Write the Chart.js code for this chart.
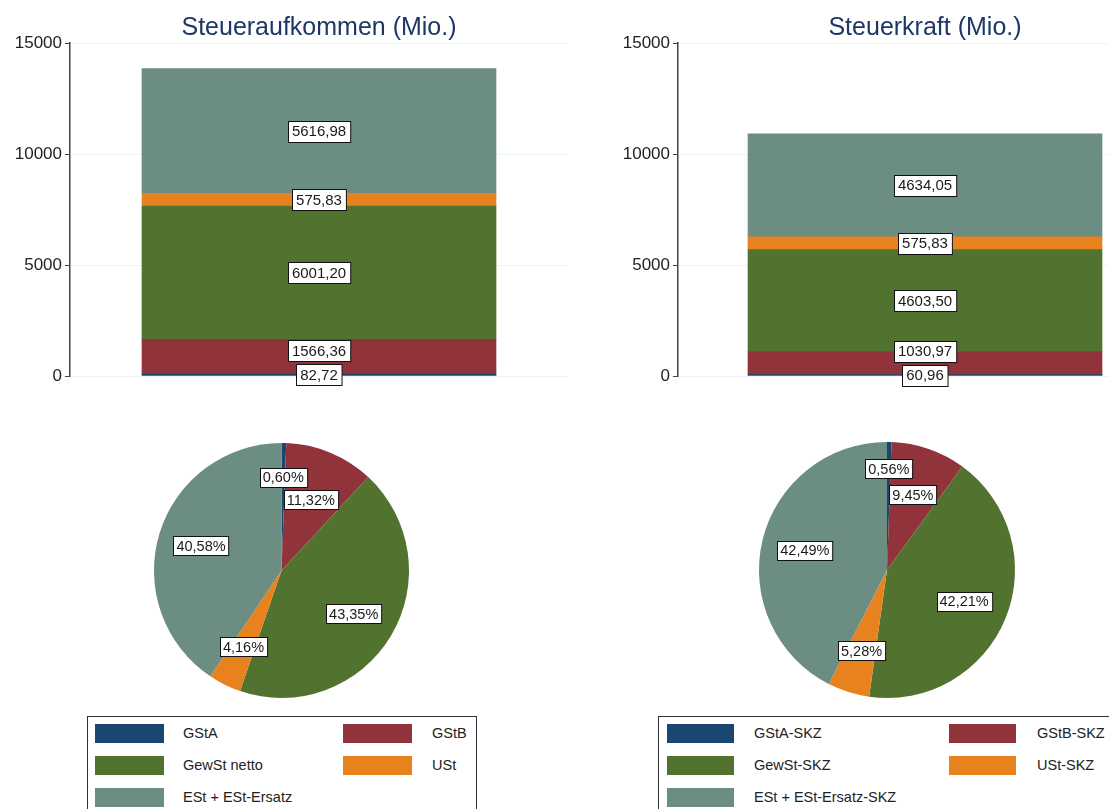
<!DOCTYPE html>
<html>
<head>
<meta charset="utf-8">
<script src="https://cdn.jsdelivr.net/npm/chart.js@4.4.1/dist/chart.umd.min.js"></script>
<style>
  html, body { margin:0; padding:0; background:#fff; }
  body { width:1109px; height:809px; overflow:hidden; position:relative; font-family:"Liberation Sans", Arial, sans-serif; }
  canvas.c { position:absolute; }
  .legend { position:absolute; border:1px solid #2c313a; background:#fff; box-sizing:border-box; }
  .sw { position:absolute; height:19px; }
  .lt { position:absolute; font-size:14.5px; color:#222; line-height:19px; white-space:nowrap; }
</style>
</head>
<body>
<canvas class="c" id="bar1" width="568" height="400" style="left:0px;top:0px;width:568px;height:400px"></canvas>
<canvas class="c" id="bar2" width="564" height="400" style="left:608px;top:0px;width:564px;height:400px"></canvas>
<canvas class="c" id="pie1" width="315" height="315" style="left:124px;top:413px;width:315px;height:315px"></canvas>
<canvas class="c" id="pie2" width="316" height="316" style="left:729px;top:412px;width:316px;height:316px"></canvas>
<div class="legend" id="leg1" style="left:87px;top:716px;width:390px;height:120px"></div>
<div class="legend" id="leg2" style="left:658px;top:716px;width:500px;height:120px"></div>
<script>
// ---- data ----
const titleLeft = 'Steueraufkommen (Mio.)';
const titleRight = 'Steuerkraft (Mio.)';
const namesLeft = ['GStA', 'GStB', 'GewSt netto', 'USt', 'ESt + ESt-Ersatz'];
const namesRight = ['GStA-SKZ', 'GStB-SKZ', 'GewSt-SKZ', 'USt-SKZ', 'ESt + ESt-Ersatz-SKZ'];
const valuesLeft = [82.72, 1566.36, 6001.20, 575.83, 5616.98];
const valuesRight = [60.96, 1030.97, 4603.50, 575.83, 4634.05];
const yTickValues = [0, 5000, 10000, 15000];
const seriesColors = ['#1a476f', '#90333b', '#52732f', '#e8821e', '#6c8e82'];

const FONT = '"Liberation Sans", Arial, sans-serif';
const fmt = v => v.toFixed(2).replace('.', ',');

function drawBox(ctx, text, x, y, fontSize, padX, h) {
  ctx.save();
  ctx.font = fontSize + 'px ' + FONT;
  const w = ctx.measureText(text).width + 2 * padX;
  const left = Math.round(x - w / 2) + 0.5, top = Math.round(y - h / 2) + 0.5;
  ctx.fillStyle = '#ffffff';
  ctx.fillRect(left, top, w, h);
  ctx.strokeStyle = '#111';
  ctx.lineWidth = 1;
  ctx.strokeRect(left, top, w, h);
  ctx.fillStyle = '#1a1a1a';
  ctx.textAlign = 'center';
  ctx.textBaseline = 'middle';
  ctx.fillText(text, x, y + 1);
  ctx.restore();
}

const barLabels = {
  id: 'barLabels',
  afterDatasetsDraw(chart) {
    const ctx = chart.ctx;
    const h = 21, gap = 3;
    let prevTop = Infinity;
    chart.data.datasets.forEach((ds, i) => {
      const el = chart.getDatasetMeta(i).data[0];
      let y = (el.y + el.base) / 2;
      if (y + h / 2 + gap > prevTop) y = prevTop - gap - h / 2;
      prevTop = y - h / 2;
      drawBox(ctx, fmt(ds.data[0]), el.x, y, 15, 4, h);
    });
  }
};

const pieLabels = {
  id: 'pieLabels',
  afterDatasetsDraw(chart, args, opts) {
    const ctx = chart.ctx;
    const ds = chart.data.datasets[0];
    const total = ds.data.reduce((a, b) => a + b, 0);
    chart.getDatasetMeta(0).data.forEach((arc, i) => {
      const mid = (arc.startAngle + arc.endAngle) / 2;
      const r = arc.outerRadius * opts.radiusFraction[i];
      const x = arc.x + Math.cos(mid) * r;
      const y = arc.y + Math.sin(mid) * r;
      drawBox(ctx, fmt(ds.data[i] / total * 100) + '%', x, y, 14.5, 3, 19);
    });
  }
};

function barChart(id, title, names, values) {
  return new Chart(document.getElementById(id), {
    type: 'bar',
    data: {
      labels: [''],
      datasets: names.map((n, i) => ({
        label: n, data: [values[i]], backgroundColor: seriesColors[i],
        borderWidth: 0, barThickness: 354
      }))
    },
    options: {
      responsive: false, animation: false, events: [],
      layout: { padding: { left: 0, right: 0, top: 0, bottom: 24 } },
      plugins: {
        legend: { display: false },
        tooltip: { enabled: false },
        title: {
          display: true, text: title, fullSize: false, color: '#1d3767',
          font: { size: 25, family: FONT, weight: 'normal' },
          padding: { top: 13, bottom: 0 }
        }
      },
      scales: {
        x: { stacked: true, display: false },
        y: {
          stacked: true, min: 0, max: 15000,
          afterBuildTicks: s => { s.ticks = yTickValues.map(v => ({ value: v })); },
          afterFit: s => { s.width = 70; },
          ticks: { font: { size: 17, family: FONT }, color: '#222', padding: 3, callback: v => String(v) },
          grid: { color: '#edf3f6', tickLength: 5, tickColor: '#444', lineWidth: 1 },
          border: { color: '#444', width: 1.5 }
        }
      }
    },
    plugins: [barLabels]
  });
}

function pieChart(id, names, values, fractions) {
  return new Chart(document.getElementById(id), {
    type: 'pie',
    data: {
      labels: names,
      datasets: [{ data: values, backgroundColor: seriesColors, borderWidth: 0 }]
    },
    options: {
      responsive: false, animation: false, events: [],
      layout: { padding: 30 },
      plugins: {
        legend: { display: false },
        tooltip: { enabled: false },
        pieLabels: { radiusFraction: fractions }
      }
    },
    plugins: [pieLabels]
  });
}

function buildLegend(id, names, cfg) {
  const box = document.getElementById(id);
  names.forEach((n, i) => {
    const col = i % 2, row = Math.floor(i / 2);
    const top = 7 + row * 32;
    const sw = document.createElement('div');
    sw.className = 'sw';
    sw.style.left = cfg.swX[col] + 'px';
    sw.style.top = top + 'px';
    sw.style.width = cfg.swW + 'px';
    sw.style.background = seriesColors[i];
    box.appendChild(sw);
    const t = document.createElement('div');
    t.className = 'lt';
    t.style.left = cfg.txX[col] + 'px';
    t.style.top = top + 'px';
    t.textContent = n;
    box.appendChild(t);
  });
}

barChart('bar1', titleLeft, namesLeft, valuesLeft);
barChart('bar2', titleRight, namesRight, valuesRight);
pieChart('pie1', namesLeft, valuesLeft, [0.73, 0.6, 0.66, 0.67, 0.66]);
pieChart('pie2', namesRight, valuesRight, [0.79, 0.62, 0.65, 0.66, 0.66]);
buildLegend('leg1', namesLeft, { swX: [7, 255], swW: 69, txX: [95, 344] });
buildLegend('leg2', namesRight, { swX: [8, 290], swW: 67, txX: [95, 378] });
</script>
</body>
</html>
